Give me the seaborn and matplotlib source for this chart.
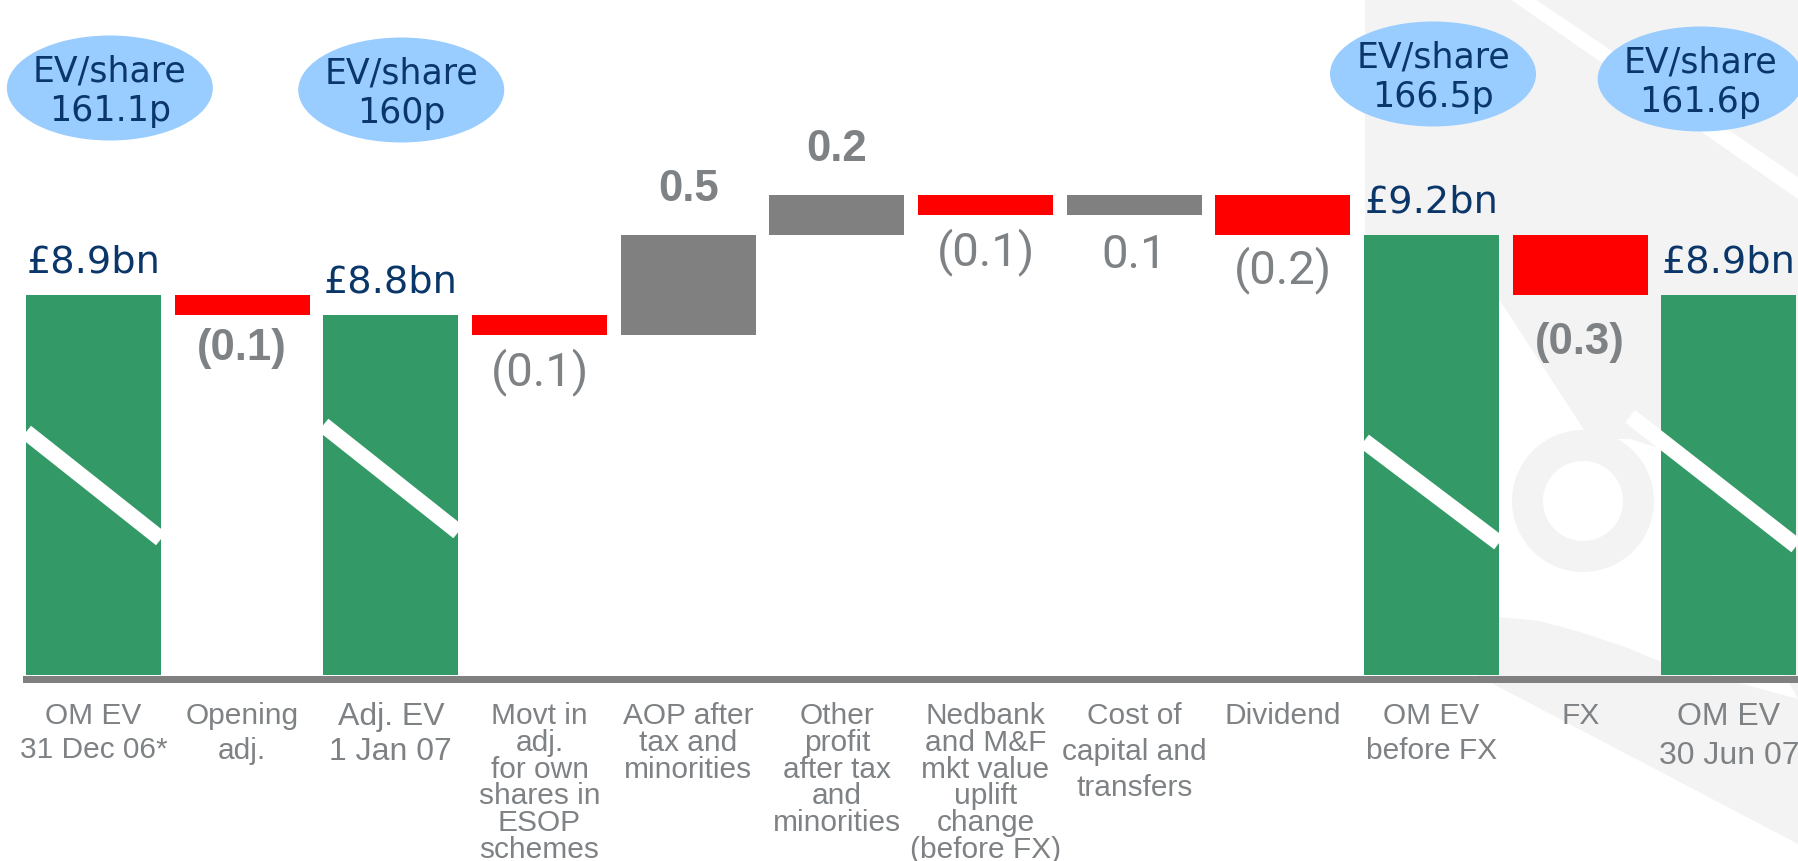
import numpy as np
import pandas as pd
import matplotlib
matplotlib.use("Agg")
import matplotlib.pyplot as plt
import seaborn as sns
from matplotlib.patches import Ellipse, Polygon, Circle, Rectangle

# ---------------- data ----------------
categories = [
    "OM EV\n31 Dec 06*",
    "Opening\nadj.",
    "Adj. EV\n1 Jan 07",
    "Movt in\nadj.\nfor own\nshares in\nESOP\nschemes",
    "AOP after\ntax and\nminorities",
    "Other\nprofit\nafter tax\nand\nminorities",
    "Nedbank\nand M&F\nmkt value\nuplift\nchange\n(before FX)",
    "Cost of\ncapital and\ntransfers",
    "Dividend",
    "OM EV\nbefore FX",
    "FX",
    "OM EV\n30 Jun 07",
]
values = [8.9, -0.1, 8.8, -0.1, 0.5, 0.2, -0.1, 0.1, -0.2, 9.2, -0.3, 8.9]
is_total = [True, False, True, False, False, False, False, False, False, True, False, True]
change_bold = [False, True, False, False, True, True, False, False, False, False, True, False]
label_above = [False, False, False, False, True, True, False, False, False, False, False, False]
ev_bars = [0, 2, 9, 11]
ev_share = ["161.1p", "160p", "166.5p", "161.6p"]
axis_base = 7.0

# ---------------- style ----------------
GREEN = "#339966"
RED = "#ff0000"
GREYBAR = "#808080"
NAVY = "#0a3669"
LABEL_GREY = "#7f8285"
BLUE = "#99ccff"
WM = "#f3f3f3"
W_PX, H_PX = 1798, 862
BAR_W = 0.908

# waterfall geometry
rows = []
level = None
for cat, v, tot in zip(categories, values, is_total):
    if tot:
        bottom, height, kind = axis_base, v - axis_base, "total"
        level = v
    else:
        end = round(level + v, 3)
        bottom, height = min(level, end), abs(v)
        kind = "up" if v > 0 else "down"
        level = end
    rows.append(dict(category=cat, bottom=bottom, height=height, top=bottom + height,
                     kind=kind, value=v))
df = pd.DataFrame(rows)

fig = plt.figure(figsize=(W_PX / 100, H_PX / 100), dpi=100)

# background watermark (pixel coordinates)
bg = fig.add_axes([0, 0, 1, 1])
bg.set_xlim(0, W_PX)
bg.set_ylim(H_PX, 0)
bg.axis("off")
bg.add_patch(Polygon([(1365, 0), (1510, 0), (1798, 200), (1798, 700), (1662, 450),
                      (1630, 440), (1590, 440), (1499, 300), (1365, 470)],
                     closed=True, color=WM, lw=0))
bg.add_patch(Polygon([(1535, 0), (1798, 0), (1798, 178)], closed=True, color=WM, lw=0))
bg.add_patch(Circle((1583, 502), 71, color=WM, lw=0))
bg.add_patch(Circle((1583, 502), 40, color="white", lw=0))
bg.add_patch(Polygon([(1499, 618), (1540, 622), (1580, 633), (1625, 648), (1662, 663),
                      (1798, 700), (1798, 845), (1478, 677), (1499, 640)],
                     closed=True, color=WM, lw=0))

# main axes: bottom edge sits on the grey base line
base_px = 679.5
ax = fig.add_axes([0, (H_PX - base_px) / H_PX, 1, base_px / H_PX])
ax.set_zorder(1)
ax.patch.set_alpha(0)

colors = {"total": GREEN, "up": GREYBAR, "down": RED}
for kind, col in colors.items():
    sub = df[df["kind"] == kind]
    sns.barplot(data=sub, x="category", y="height", order=categories,
                bottom=sub["bottom"].to_numpy(), color=col, saturation=1,
                width=BAR_W, errorbar=None, linewidth=0, ax=ax)

px_per_x = 148.67
px_per_y = 200.0
ax.set_xlim(-93.5 / px_per_x, (W_PX - 93.5) / px_per_x)
ax.set_ylim(axis_base - 3.5 / px_per_y, axis_base + 676 / px_per_y)

for s in ["top", "left", "right"]:
    ax.spines[s].set_visible(False)
ax.spines["bottom"].set_color("#808080")
ax.spines["bottom"].set_linewidth(7 * 72 / 100)
ax.spines["bottom"].set_bounds(-BAR_W / 2, len(categories) - 1 + BAR_W / 2)
ax.set_yticks([])
ax.set_xlabel("")
ax.set_ylabel("")
ax.set_xticks(range(len(categories)))
ax.set_xticklabels(categories, color=LABEL_GREY, family=["Liberation Sans", "DejaVu Sans"])
ax.tick_params(axis="x", length=0, pad=16)
tick_sizes = [21.5, 21.5, 23, 21.5, 21.5, 21.5, 21.5, 21.5, 21.5, 21.5, 21.5, 23]
tick_ls = [1.3, 1.33, 1.25, 0.95, 0.95, 0.95, 0.95, 1.38, 1.33, 1.33, 1.33, 1.4]
for t, fs, ls in zip(ax.get_xticklabels(), tick_sizes, tick_ls):
    t.set_fontsize(fs)
    t.set_linespacing(ls)

# axis-break stripes on total bars
break_y = {0: (8.215, 7.68), 2: (8.25, 7.715), 9: (8.17, 7.66), 11: (8.294, 7.645)}
for i, (yl, yr) in break_y.items():
    r = df.iloc[i]
    x0 = i - BAR_W / 2
    x1 = i + BAR_W / 2
    if i == 11:
        x0 = i - BAR_W / 2 - 0.21
        ax.plot([x0, x1], [yl, yr], color="white", lw=11.5, solid_capstyle="butt", zorder=3)
    else:
        ln, = ax.plot([x0, x1], [yl, yr], color="white", lw=11.5, solid_capstyle="butt",
                      zorder=3)
        clip = Rectangle((x0, r["bottom"]), BAR_W, r["height"], transform=ax.transData)
        ln.set_clip_path(clip)

# total labels
for i, r in df.iterrows():
    if r["kind"] == "total":
        ax.annotate(f"£{r['value']:.1f}bn", xy=(i, r["top"]), xytext=(0, 17),
                    textcoords="offset points", ha="center", va="baseline",
                    fontsize=27.5, color=NAVY, family="DejaVu Sans", annotation_clip=False)

# change labels
below_offset = [0, -9, 0, -9, 0, 0, -9, -12, -7, 0, -19, 0]
for i, r in df.iterrows():
    if r["kind"] == "total":
        continue
    v = r["value"]
    txt = f"({abs(v):.1f})" if v < 0 else f"{v:.1f}"
    if change_bold[i]:
        font = dict(family="Liberation Sans", fontweight="bold", fontsize=31.5)
    else:
        font = dict(family="Roboto", fontweight="normal", fontsize=34)
    if label_above[i]:
        ax.annotate(txt, xy=(i, r["top"]), xytext=(0, 25), textcoords="offset points",
                    ha="center", va="baseline", color=LABEL_GREY, **font)
    else:
        ax.annotate(txt, xy=(i, r["bottom"]), xytext=(0, below_offset[i]),
                    textcoords="offset points", ha="center", va="top",
                    color=LABEL_GREY, **font)

# EV/share bubbles
ev_dx = [0.11, 0.07, 0.01, -0.19]
ev_cy_px = [89, 91, 75, 80]
for b, val, dx, cy in zip(ev_bars, ev_share, ev_dx, ev_cy_px):
    yc = axis_base + (676 - cy) / px_per_y
    ax.add_patch(Ellipse((b + dx, yc), 206 / px_per_x, 105 / px_per_y, color=BLUE,
                         lw=0, clip_on=False, zorder=2))
    ax.text(b + dx, yc - 2 / px_per_y, f"EV/share\n{val}", ha="center", va="center",
            fontsize=25, color=NAVY, family="DejaVu Sans", linespacing=1.2, zorder=3)

fig.savefig("out.png", dpi=100)
